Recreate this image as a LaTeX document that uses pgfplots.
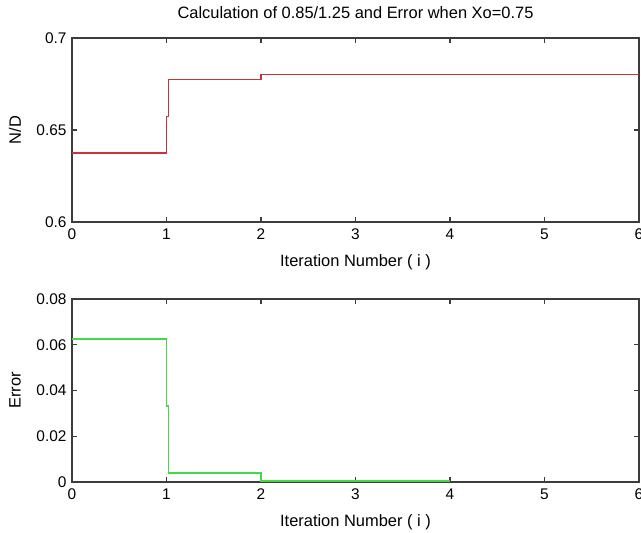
\documentclass[border=0pt]{standalone}
\usepackage{fontspec}
\setmainfont{Liberation Sans}
\usepackage{pgfplots}
\pgfplotsset{compat=1.18}
\definecolor{axgray}{RGB}{60,60,60}
\definecolor{lred}{RGB}{205,50,55}
\definecolor{lgreen}{RGB}{70,215,70}
\begin{document}
\begin{tikzpicture}
\useasboundingbox (0bp,0bp) rectangle (641bp,533bp);
\clip (0bp,0bp) rectangle (641bp,533bp);
\pgfplotsset{
  common/.style={
    scale only axis, width=567bp, anchor=south west,
    xmin=0, xmax=6, xtick={0,1,2,3,4,5,6},
    scaled ticks=false,
    axis line style={draw=axgray, line width=1.3bp},
    every tick/.style={draw=axgray, line width=1.1bp},
    major tick length=5bp, tick align=inside,
    tick label style={font=\fontsize{15.5}{18}\selectfont},
    label style={font=\fontsize{16.5}{19}\selectfont},
    /pgf/number format/assume math mode=true,
    xticklabel style={yshift=-3bp},
    yticklabel style={xshift=-2bp},
    xlabel={Iteration Number ( i )},
    xlabel style={at={(axis description cs:0.5,0)}, anchor=center, yshift=-40bp},
    ylabel style={at={(axis description cs:-0.1005,0.5)}, anchor=center},
    clip=false,
  }
}
\begin{axis}[common, at={(72bp,311bp)}, height=184bp,
  ymin=0.6, ymax=0.7, ytick={0.6,0.65,0.7}, yticklabels={0.6,0.65,0.7},
  ylabel={N/D}]
\addplot[lred, line width=1.4bp] coordinates {
 (0,0.6375) (1,0.6375) (1,0.6574) (1.018,0.6574) (1.018,0.67734)
 (2,0.67734) (2,0.68) (6,0.68)};
\end{axis}
\node[font=\fontsize{16.5}{19}\selectfont] at (355.5bp,520bp) {Calculation of 0.85/1.25 and Error when Xo=0.75};
\begin{axis}[common, at={(72bp,51bp)}, height=183bp,
  ymin=0, ymax=0.08, ytick={0,0.02,0.04,0.06,0.08},
  yticklabels={0,0.02,0.04,0.06,0.08},
  ylabel={Error}]
\addplot[lgreen, line width=1.4bp] coordinates {
 (0,0.0625) (1,0.0625) (1,0.0332) (1.02,0.0332) (1.02,0.0039)
 (2,0.0039) (2,0.0005) (4,0.0005)};
\end{axis}
\end{tikzpicture}
\end{document}
